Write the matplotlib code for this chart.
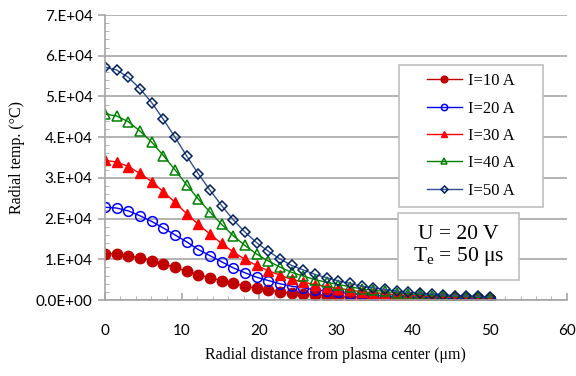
import matplotlib.pyplot as plt
import numpy as np
from matplotlib.patches import Rectangle
from matplotlib.ticker import MultipleLocator, FuncFormatter

# radial positions (um), 34 points from 0 to 50
r = np.linspace(0, 50, 34)

# radial temperature (x1e4 degC)
t10 = [1.14, 1.13, 1.09, 1.04, 0.97, 0.89, 0.80, 0.71, 0.62, 0.55, 0.48, 0.41, 0.34, 0.29, 0.24, 0.20,
       0.17, 0.15, 0.13, 0.11, 0.09, 0.08, 0.07, 0.06, 0.05, 0.04, 0.04, 0.03, 0.03, 0.02, 0.02, 0.02, 0.02, 0.02]
t20 = [2.28, 2.26, 2.19, 2.07, 1.93, 1.77, 1.60, 1.43, 1.24, 1.09, 0.94, 0.79, 0.67, 0.56, 0.48, 0.40,
       0.34, 0.30, 0.25, 0.22, 0.19, 0.16, 0.14, 0.12, 0.10, 0.09, 0.08, 0.07, 0.06, 0.05, 0.04, 0.04, 0.04, 0.03]
t30 = [3.43, 3.39, 3.28, 3.11, 2.91, 2.66, 2.40, 2.12, 1.86, 1.62, 1.39, 1.18, 1.00, 0.85, 0.72, 0.61,
       0.51, 0.44, 0.38, 0.33, 0.28, 0.25, 0.20, 0.18, 0.16, 0.13, 0.11, 0.10, 0.08, 0.07, 0.07, 0.06, 0.05, 0.05]
t40 = [4.57, 4.52, 4.38, 4.15, 3.88, 3.55, 3.20, 2.83, 2.48, 2.16, 1.86, 1.58, 1.34, 1.13, 0.96, 0.81,
       0.68, 0.59, 0.50, 0.44, 0.38, 0.33, 0.27, 0.24, 0.21, 0.18, 0.15, 0.14, 0.11, 0.10, 0.09, 0.08, 0.07, 0.06]
t50 = [5.72, 5.65, 5.47, 5.19, 4.85, 4.44, 4.00, 3.54, 3.10, 2.70, 2.32, 1.97, 1.67, 1.41, 1.20, 1.01,
       0.85, 0.74, 0.63, 0.55, 0.47, 0.41, 0.34, 0.30, 0.26, 0.22, 0.19, 0.17, 0.14, 0.12, 0.11, 0.10, 0.09, 0.08]

labels = ['I=10 A', 'I=20 A', 'I=30 A', 'I=40 A', 'I=50 A']
xticks = [0, 10, 20, 30, 40, 50, 60]

serif = 'Liberation Serif'
sans = 'Lato'
box_ec = '#BFBFBF'

fig = plt.figure(figsize=(5.76, 3.76), dpi=100)
ax = fig.add_axes([0.1823, 0.202, 0.8017, 0.758])

s = 1e4
ax.plot(r, np.array(t10) * s, color='#C00000', marker='o', ms=7.5, mfc='#C00000', mec='#C00000', lw=1, label=labels[0])
ax.plot(r, np.array(t20) * s, color='#0000FF', marker='o', ms=7, mfc='none', mec='#0000FF', mew=1.1, lw=1, label=labels[1])
ax.plot(r, np.array(t30) * s, color='#FF0000', marker='^', ms=7.5, mfc='#FF0000', mec='#FF0000', lw=1, label=labels[2])
ax.plot(r, np.array(t40) * s, color='#008000', marker='^', ms=7.5, mfc='none', mec='#008000', mew=1.1, lw=1, label=labels[3])
ax.plot(r, np.array(t50) * s, color='#2F4F8F', marker='D', ms=5.5, mfc='none', mec='#002060', mew=1.1, lw=1, label=labels[4])

ax.set_xlim(0, 60)
ax.set_ylim(0, 7e4)
ax.set_xticks(xticks)
ax.yaxis.set_major_locator(MultipleLocator(1e4))
ax.yaxis.set_minor_locator(MultipleLocator(2e3))
ax.xaxis.set_minor_locator(MultipleLocator(2))
ax.yaxis.set_major_formatter(FuncFormatter(lambda v, p: ('%d.E+04' % round(v / 1e4)) if v > 0 else '0.0E+00'))

ax.grid(axis='y', color='#A6A6A6', lw=1.2)
ax.set_axisbelow(True)
for sp in ['top', 'right']:
    ax.spines[sp].set_visible(False)
for sp in ['left', 'bottom']:
    ax.spines[sp].set_color('#A6A6A6')
    ax.spines[sp].set_linewidth(1.2)

ax.tick_params(axis='y', which='major', direction='out', length=5, color='#A6A6A6', width=1.2, labelsize=11, pad=4)
ax.tick_params(axis='y', which='minor', direction='in', length=3, color='#A6A6A6')
ax.tick_params(axis='x', which='major', direction='in', length=5, color='#A6A6A6', width=1.2, labelsize=11, pad=17)
ax.tick_params(axis='x', which='minor', direction='in', length=3, color='#A6A6A6')
for t in ax.get_xticklabels() + ax.get_yticklabels():
    t.set_family(sans)

ax.set_xlabel('Radial distance from plasma center (μm)', family=serif, fontsize=11.5, labelpad=7)
ax.set_ylabel('Radial temp. (°C)', family=serif, fontsize=11.5, labelpad=8)

# legend box
ax.add_patch(Rectangle((0.636, 0.326), 0.312, 0.499, transform=ax.transAxes, fc='white', ec=box_ec, lw=1.2, zorder=5))
leg = ax.legend(loc='center', bbox_to_anchor=(0.792, 0.576), prop={'family': serif, 'size': 12},
                handlelength=2.1, handletextpad=0.4, frameon=False, labelspacing=0.68, markerscale=0.65)
leg.set_zorder(6)

# condition box
ax.add_patch(Rectangle((0.634, 0.070), 0.262, 0.235, transform=ax.transAxes, fc='white', ec=box_ec, lw=1.2, zorder=5))
ax.text(0.765, 0.188, 'U = 20 V\nT$_\\mathregular{e}$ = 50 μs', transform=ax.transAxes, ha='center', va='center',
        family=serif, fontsize=15.5, linespacing=1.05, zorder=6)

fig.savefig('out.png', dpi=100)
